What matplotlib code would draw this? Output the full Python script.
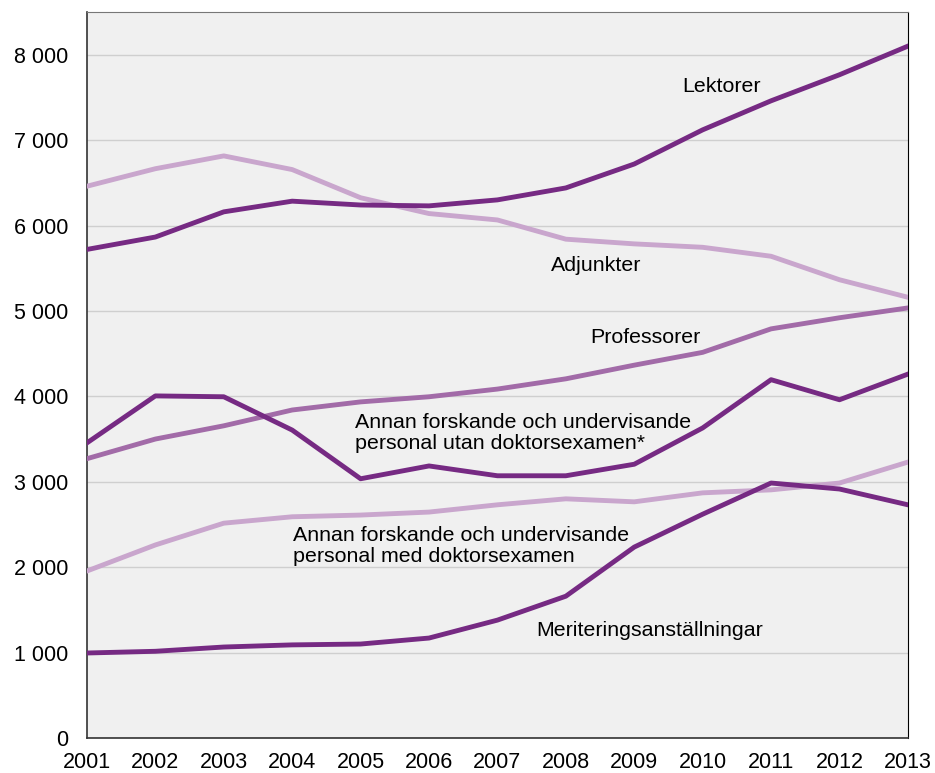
import matplotlib
matplotlib.use("Agg")
import matplotlib.pyplot as plt

plt.rcParams['font.family'] = ['Liberation Sans', 'DejaVu Sans']

years = list(range(2001, 2014))
lektorer = [5720, 5865, 6160, 6285, 6240, 6230, 6300, 6440, 6720, 7120, 7460, 7765, 8100]
adjunkter = [6460, 6665, 6815, 6655, 6325, 6140, 6065, 5840, 5785, 5745, 5640, 5365, 5160]
professorer = [3270, 3500, 3655, 3840, 3935, 3995, 4085, 4205, 4365, 4515, 4790, 4920, 5035]
annan_utan = [3455, 4005, 3995, 3605, 3035, 3185, 3070, 3070, 3205, 3630, 4195, 3960, 4260]
annan_med = [1955, 2260, 2515, 2590, 2610, 2645, 2730, 2800, 2765, 2870, 2905, 2985, 3230]
meritering = [995, 1015, 1065, 1090, 1100, 1170, 1380, 1660, 2235, 2620, 2985, 2915, 2730]

yticks = [0, 1000, 2000, 3000, 4000, 5000, 6000, 7000, 8000]
ytick_labels = ["0", "1 000", "2 000", "3 000", "4 000", "5 000", "6 000", "7 000", "8 000"]

dark = "#762A83"
medium = "#A26BA8"
light = "#C9A6CD"

fig = plt.figure(figsize=(9.35, 7.73), dpi=100)
ax = fig.add_axes([0.093, 0.0453, 0.878, 0.9392])
ax.set_facecolor("#F0F0F0")

lw = 3.5
ax.plot(years, adjunkter, color=light, lw=lw, zorder=3)
ax.plot(years, annan_med, color=light, lw=lw, zorder=3)
ax.plot(years, professorer, color=medium, lw=lw, zorder=3)
ax.plot(years, lektorer, color=dark, lw=lw, zorder=4)
ax.plot(years, annan_utan, color=dark, lw=lw, zorder=4)
ax.plot(years, meritering, color=dark, lw=lw, zorder=4)

fs = 15.4
ax.text(2010.28, 7625, "Lektorer", ha="center", va="center", fontsize=fs, zorder=5)
ax.text(2008.44, 5530, "Adjunkter", ha="center", va="center", fontsize=fs, zorder=5)
ax.text(2009.16, 4685, "Professorer", ha="center", va="center", fontsize=fs, zorder=5)
ax.text(2004.92, 3572, "Annan forskande och undervisande\npersonal utan doktorsexamen*",
        ha="left", va="center", fontsize=fs, linespacing=1.15, zorder=5)
ax.text(2004.01, 2249, "Annan forskande och undervisande\npersonal med doktorsexamen",
        ha="left", va="center", fontsize=fs, linespacing=1.15, zorder=5)
ax.text(2009.23, 1253, "Meriteringsanställningar", ha="center", va="center", fontsize=fs, zorder=5)

ax.set_xlim(2001, 2013)
ax.set_ylim(0, 8500)
ax.set_yticks(yticks)
ax.set_yticklabels(ytick_labels)
ax.set_xticks(years)
ax.set_xticklabels([str(y) for y in years])
ax.tick_params(axis="both", length=0, labelsize=15.5, colors="black")
ax.tick_params(axis="y", pad=13.5)
ax.tick_params(axis="x", pad=10)
ax.yaxis.grid(True, color="#CFCFCF", lw=1.0)
ax.set_axisbelow(True)
for side in ["left", "bottom"]:
    ax.spines[side].set_color("#333333")
    ax.spines[side].set_linewidth(1.2)
ax.spines["top"].set_color("#777777")
ax.spines["right"].set_color("#000000")

fig.savefig("out.png", dpi=100)
